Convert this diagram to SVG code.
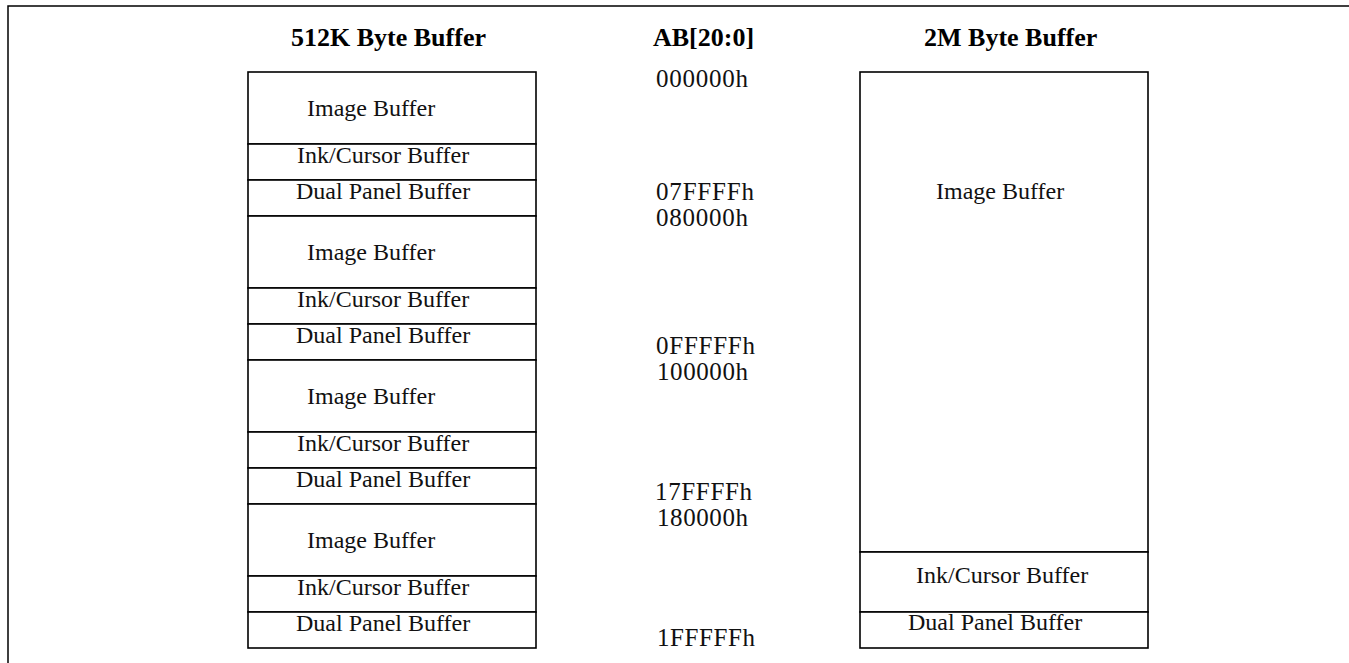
<svg xmlns="http://www.w3.org/2000/svg" width="1349" height="663" viewBox="0 0 1349 663">
<style>
.box{fill:#fff;stroke:#000;stroke-width:1.6}
.frame{fill:none;stroke:#000;stroke-width:1.5}
.t{font-family:"Liberation Serif","Times New Roman",serif;font-size:24px;fill:#111}
.a{font-family:"Liberation Serif","Times New Roman",serif;font-size:25px;fill:#111}
.h{font-family:"Liberation Serif","Times New Roman",serif;font-size:26px;font-weight:bold;fill:#000}
</style>
<rect width="1349" height="663" fill="#fff"/>
<path class="frame" d="M8,663 V6 H1349"/>

<g id="titles">
<text class="h" x="291" y="46">512K Byte Buffer</text>
<text class="h" x="653" y="46">AB[20:0]</text>
<text class="h" x="924" y="46">2M Byte Buffer</text>
</g>

<g id="buffer512k">
<g id="blk0">
<rect class="box" x="248" y="72" width="288" height="72"/>
<rect class="box" x="248" y="144" width="288" height="36"/>
<rect class="box" x="248" y="180" width="288" height="36"/>
<text class="t" x="307" y="116">Image Buffer</text>
<text class="t" x="297" y="163">Ink/Cursor Buffer</text>
<text class="t" x="296" y="199">Dual Panel Buffer</text>
</g>
<g id="blk1">
<rect class="box" x="248" y="216" width="288" height="72"/>
<rect class="box" x="248" y="288" width="288" height="36"/>
<rect class="box" x="248" y="324" width="288" height="36"/>
<text class="t" x="307" y="260">Image Buffer</text>
<text class="t" x="297" y="307">Ink/Cursor Buffer</text>
<text class="t" x="296" y="343">Dual Panel Buffer</text>
</g>
<g id="blk2">
<rect class="box" x="248" y="360" width="288" height="72"/>
<rect class="box" x="248" y="432" width="288" height="36"/>
<rect class="box" x="248" y="468" width="288" height="36"/>
<text class="t" x="307" y="404">Image Buffer</text>
<text class="t" x="297" y="451">Ink/Cursor Buffer</text>
<text class="t" x="296" y="487">Dual Panel Buffer</text>
</g>
<g id="blk3">
<rect class="box" x="248" y="504" width="288" height="72"/>
<rect class="box" x="248" y="576" width="288" height="36"/>
<rect class="box" x="248" y="612" width="288" height="36"/>
<text class="t" x="307" y="548">Image Buffer</text>
<text class="t" x="297" y="595">Ink/Cursor Buffer</text>
<text class="t" x="296" y="631">Dual Panel Buffer</text>
</g>
</g>

<g id="addresses">
<text class="a" x="656" y="87" textLength="92">000000h</text>
<text class="a" x="656" y="200" textLength="98">07FFFFh</text>
<text class="a" x="656" y="226" textLength="92">080000h</text>
<text class="a" x="656" y="354" textLength="99">0FFFFFh</text>
<text class="a" x="657" y="380" textLength="91">100000h</text>
<text class="a" x="655" y="500" textLength="97">17FFFFh</text>
<text class="a" x="657" y="526" textLength="91">180000h</text>
<text class="a" x="657" y="646" textLength="98">1FFFFFh</text>
</g>

<g id="buffer2m">
<rect class="box" x="860" y="72" width="288" height="480"/>
<rect class="box" x="860" y="552" width="288" height="60"/>
<rect class="box" x="860" y="612" width="288" height="36"/>
<text class="t" x="936" y="199">Image Buffer</text>
<text class="t" x="916" y="583">Ink/Cursor Buffer</text>
<text class="t" x="908" y="630">Dual Panel Buffer</text>
</g>
<g id="connectors"/>
</svg>
